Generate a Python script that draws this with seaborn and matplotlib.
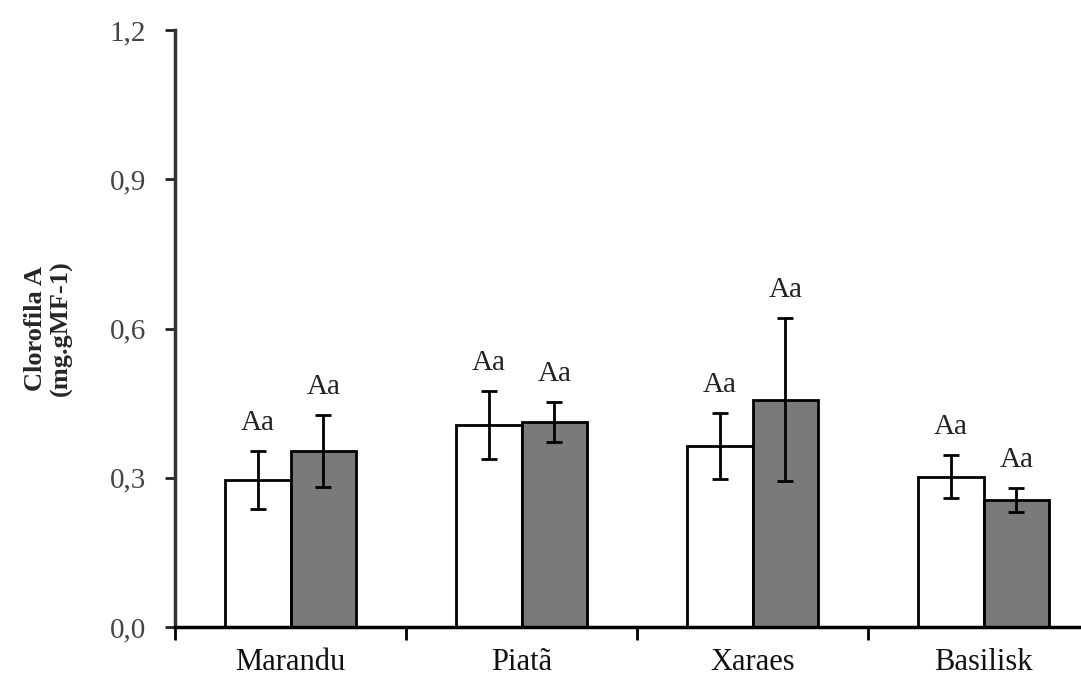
"""
Chlorophyll A per cultivar, two treatments, with error bars.
"""
import seaborn as sns
import matplotlib.pyplot as plt
import pandas as pd
from matplotlib.ticker import FixedLocator, FuncFormatter

cultivars = ['Marandu', 'Piatã', 'Xaraes', 'Basilisk']
treatments = ['T1', 'T2']
mean_t1 = [0.296, 0.406, 0.364, 0.302]
err_t1 = [0.058, 0.068, 0.066, 0.043]
mean_t2 = [0.354, 0.412, 0.457, 0.256]
err_t2 = [0.072, 0.040, 0.164, 0.024]
letters_t1 = ['Aa', 'Aa', 'Aa', 'Aa']
letters_t2 = ['Aa', 'Aa', 'Aa', 'Aa']

sns.set_style('white', {'axes.spines.right': False, 'axes.spines.top': False})
plt.rcParams['font.family'] = ['Liberation Serif', 'DejaVu Serif']

df = pd.DataFrame({
    'cultivar': cultivars * 2,
    'trat': [treatments[0]] * 4 + [treatments[1]] * 4,
    'valor': mean_t1 + mean_t2,
})

fig = plt.figure(figsize=(10.81, 6.77), dpi=100)
ax = fig.add_axes([175 / 1081, 50 / 677, 924 / 1081, 597 / 677])

sns.barplot(data=df, x='cultivar', y='valor', hue='trat', order=cultivars,
            hue_order=treatments, palette=['white', '#7a7a7a'],
            width=0.57, edgecolor='black', linewidth=2, errorbar=None,
            legend=False, ax=ax)

# error bars and letters over each bar
errs = err_t1 + err_t2
letters = letters_t1 + letters_t2
means = mean_t1 + mean_t2
for bar, m, e, lab in zip(ax.patches, means, errs, letters):
    xc = bar.get_x() + bar.get_width() / 2
    ax.errorbar(xc, m, yerr=e, fmt='none', ecolor='black', elinewidth=2,
                capsize=6, capthick=2, zorder=5)
    ax.text(xc, m + e + 0.03, lab, ha='center', va='bottom',
            fontsize=21, color='#222222')

ax.set_ylim(0, 1.2)
ax.set_xlim(-0.5, 3.5)
ax.set_yticks([0, 0.3, 0.6, 0.9, 1.2])
ax.yaxis.set_major_formatter(FuncFormatter(lambda v, p: f'{v:.1f}'.replace('.', ',')))
ax.tick_params(axis='y', left=True, direction='out', length=7, width=2,
               color='#222222', labelsize=21, labelcolor='#444444', pad=14)

# ticks between categories, labels at centers
ax.xaxis.set_major_locator(FixedLocator([-0.5, 0.5, 1.5, 2.5, 3.5]))
ax.set_xticklabels([])
ax.xaxis.set_minor_locator(FixedLocator(range(len(cultivars))))
ax.xaxis.set_minor_formatter(FuncFormatter(lambda v, p: cultivars[int(round(v))]))
ax.tick_params(axis='x', which='major', bottom=True, direction='out',
               length=9, width=2, color='black')
ax.tick_params(axis='x', which='minor', bottom=True, length=0, labelsize=22,
               pad=15, labelcolor='#111111')

ax.spines['left'].set_linewidth(2.5)
ax.spines['left'].set_color('#333333')
ax.spines['bottom'].set_linewidth(2.5)
ax.spines['bottom'].set_color('black')

ax.set_xlabel('')
ax.set_ylabel('Clorofila A\n(mg.gMF-1)', fontsize=19, fontweight='bold',
              labelpad=26, linespacing=1.15)

fig.savefig('out.png', dpi=100)
